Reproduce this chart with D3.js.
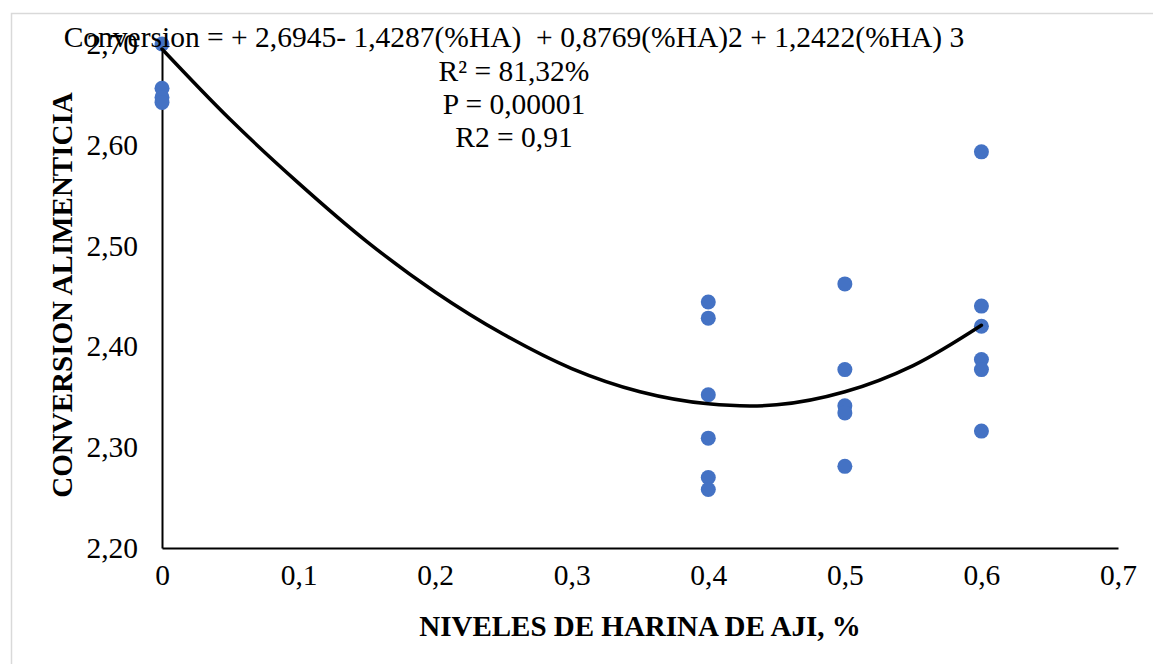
<!DOCTYPE html>
<html>
<head>
<meta charset="utf-8">
<script src="https://cdn.jsdelivr.net/npm/d3@7/dist/d3.min.js"></script>
<style>
  html, body { margin: 0; padding: 0; background: #fff; }
  svg { display: block; }
  text { font-family: "Liberation Serif", "Times New Roman", serif; fill: #000; }
</style>
</head>
<body>
<svg id="chart" width="1153" height="664"></svg>
<script>
// ---- data ----
const xTicks = [0, 0.1, 0.2, 0.3, 0.4, 0.5, 0.6, 0.7];
const xTickLabels = ["0", "0,1", "0,2", "0,3", "0,4", "0,5", "0,6", "0,7"];
const yTicks = [2.20, 2.30, 2.40, 2.50, 2.60, 2.70];
const yTickLabels = ["2,20", "2,30", "2,40", "2,50", "2,60", "2,70"];

const obsX = [0, 0, 0, 0,
              0.4, 0.4, 0.4, 0.4, 0.4, 0.4,
              0.5, 0.5, 0.5, 0.5, 0.5,
              0.6, 0.6, 0.6, 0.6, 0.6, 0.6];
const obsY = [2.700, 2.656, 2.647, 2.642,
              2.444, 2.428, 2.352, 2.309, 2.270, 2.258,
              2.462, 2.377, 2.341, 2.334, 2.281,
              2.593, 2.440, 2.420, 2.387, 2.377, 2.316];

const trendX = [0, 0.05, 0.1, 0.15, 0.2, 0.25, 0.3, 0.35, 0.4, 0.45, 0.5, 0.55, 0.6];
const trendY = [2.695, 2.625, 2.562, 2.504, 2.454, 2.412, 2.378, 2.355, 2.343, 2.342, 2.355, 2.381, 2.421];

const annotationLines = [
  "Conversion = + 2,6945- 1,4287(%HA)  + 0,8769(%HA)2 + 1,2422(%HA) 3",
  "R\u00B2 = 81,32%",
  "P = 0,00001",
  "R2 = 0,91"
];
const xTitle = "NIVELES DE HARINA DE AJI, %";
const yTitle = "CONVERSION ALIMENTICIA";

// ---- drawing ----
const svg = d3.select("#chart");
const x = d3.scaleLinear().domain([0, 0.7]).range([162, 1118]);
const y = d3.scaleLinear().domain([2.20, 2.70]).range([548, 44]);

// outer chart border (light grey)
svg.append("path")
  .attr("d", "M11.5,664 L11.5,13.5 L1153,13.5")
  .attr("fill", "none").attr("stroke", "#d9d9d9").attr("stroke-width", 1.5);

// axes
const xAxis = d3.axisBottom(x).tickValues(xTicks)
  .tickFormat((d, i) => xTickLabels[i]).tickSize(0).tickPadding(16);
const gx = svg.append("g").attr("transform", `translate(0,${y(2.20)})`).call(xAxis);
gx.select(".domain").attr("stroke", "#000").attr("stroke-width", 2);
gx.selectAll("text").attr("font-size", 29.5).attr("font-family", "Liberation Serif").attr("dy", "0.71em");

const yAxis = d3.axisLeft(y).tickValues(yTicks)
  .tickFormat((d, i) => yTickLabels[i]).tickSize(0).tickPadding(24);
const gy = svg.append("g").attr("transform", `translate(${x(0)},0)`).call(yAxis);
gy.select(".domain").attr("stroke", "#000").attr("stroke-width", 2);
gy.selectAll("text").attr("font-size", 29.5).attr("font-family", "Liberation Serif");

// points
svg.append("g").selectAll("circle")
  .data(obsX.map((d, i) => [d, obsY[i]]))
  .join("circle")
  .attr("cx", d => x(d[0]))
  .attr("cy", d => y(d[1]))
  .attr("r", 7.5)
  .attr("fill", "#4472C4");

// trend line
const line = d3.line().x(d => x(d[0])).y(d => y(d[1])).curve(d3.curveCatmullRom);
svg.append("path")
  .datum(trendX.map((d, i) => [d, trendY[i]]))
  .attr("d", line)
  .attr("fill", "none")
  .attr("stroke", "#000")
  .attr("stroke-width", 3.5)
  .attr("stroke-linecap", "round");

// annotation
const annBaselines = [47, 81, 114, 147];
svg.append("g").selectAll("text")
  .data(annotationLines)
  .join("text")
  .attr("x", 514)
  .attr("y", (d, i) => annBaselines[i])
  .attr("text-anchor", "middle")
  .attr("font-size", 29.5)
  .style("white-space", "pre")
  .text(d => d);

// axis titles
svg.append("text")
  .attr("x", 640).attr("y", 636)
  .attr("text-anchor", "middle")
  .attr("font-size", 29).attr("font-weight", "bold")
  .text(xTitle);

svg.append("text")
  .attr("transform", "translate(72,295) rotate(-90)")
  .attr("text-anchor", "middle")
  .attr("font-size", 29).attr("font-weight", "bold")
  .text(yTitle);
</script>
</body>
</html>
